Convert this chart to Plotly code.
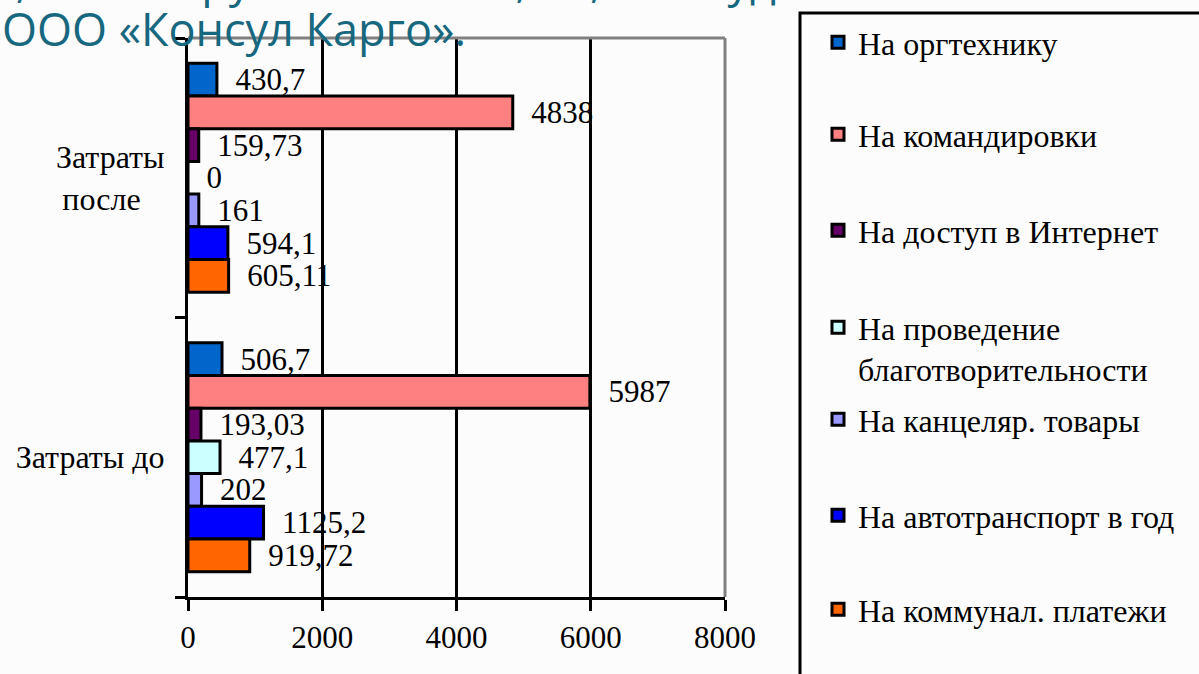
import plotly.graph_objects as go

categories = ["Затраты после", "Затраты до"]
category_labels = ["Затраты<br>после\u00a0\u00a0\u00a0", "Затраты до"]

series_names = [
    "На оргтехнику",
    "На командировки",
    "На доступ в Интернет",
    "На проведение<br>благотворительности",
    "На канцеляр. товары",
    "На автотранспорт в год",
    "На коммунал. платежи",
]
orgtech = [430.7, 506.7]
business_trips = [4838, 5987]
internet = [159.73, 193.03]
charity = [0, 477.1]
stationery = [161, 202]
vehicles = [594.1, 1125.2]
utilities = [605.11, 919.72]
series_values = [orgtech, business_trips, internet, charity, stationery, vehicles, utilities]
series_colors = ["#0066CC", "#FF8080", "#660066", "#CCFFFF", "#9999FF", "#0000FF", "#FF6600"]

x_ticks = [0, 2000, 4000, 6000, 8000]

W, H = 1199, 674
L, R, T, B = 188, 474, 38, 77
pw, ph = W - L - R, H - T - B


def px_x(p):
    return (p - L) / pw


def px_y(p):
    return (H - B - p) / ph


SERIF = "Liberation Serif, Times New Roman, serif"

# pixel top of each legend entry (one legend per series, to mimic the spaced-out legend)
legend_tops = [15, 107, 203, 300, 392, 488, 582]

fig = go.Figure()
legend_layouts = {}
for i, (name, vals, col) in enumerate(zip(series_names, series_values, series_colors)):
    lname = "legend" if i == 0 else f"legend{i + 1}"
    fig.add_trace(go.Bar(
        y=categories,
        x=vals,
        orientation="h",
        name=name,
        legend=lname,
        marker=dict(color=col, line=dict(color="black", width=3)),
        text=["\u00a0\u00a0" + f"{v:g}".replace(".", ",") for v in vals],
        textposition="outside",
        constraintext="none",
        cliponaxis=False,
        textfont=dict(family=SERIF, size=31, color="black"),
        hoverinfo="x+name",
    ))
    legend_layouts[lname] = dict(
        x=px_x(818), y=px_y(legend_tops[i]), xanchor="left", yanchor="top",
        bgcolor="rgba(0,0,0,0)", borderwidth=0,
        font=dict(family=SERIF, size=32, color="black"),
        valign="top",
    )

fig.update_layout(
    width=W, height=H,
    margin=dict(l=L, r=R, t=T, b=B, autoexpand=False),
    paper_bgcolor="#fcfcfc",
    plot_bgcolor="#fcfcfc",
    barmode="group",
    bargap=0.18,
    bargroupgap=0,
    font=dict(family=SERIF, size=30, color="black"),
    showlegend=True,
    xaxis=dict(
        range=[0, 8000], tickvals=x_ticks, ticktext=[str(t) for t in x_ticks],
        showgrid=True, gridcolor="black", gridwidth=3, zeroline=False,
        showline=True, linecolor="black", linewidth=3,
        ticks="outside", ticklen=11, tickwidth=3, tickcolor="black",
        ticklabelstandoff=0,
        tickfont=dict(family=SERIF, size=31, color="black"),
    ),
    yaxis=dict(
        type="category", categoryorder="array", categoryarray=categories,
        autorange="reversed",
        tickvals=categories, ticktext=category_labels,
        showgrid=False, zeroline=False,
        showline=True, linecolor="black", linewidth=3,
        ticks="outside", tickson="boundaries", ticklen=10, tickwidth=3, tickcolor="black",
        ticklabelstandoff=14,
        tickfont=dict(family=SERIF, size=32, color="black"),
    ),
    shapes=[
        dict(type="line", xref="paper", yref="paper", x0=0, x1=1, y0=1, y1=1,
             line=dict(color="#808080", width=3), layer="above"),
        dict(type="line", xref="paper", yref="paper", x0=1, x1=1, y0=0, y1=1,
             line=dict(color="#808080", width=3), layer="above"),
        dict(type="rect", xref="paper", yref="paper",
             x0=px_x(800), x1=px_x(1260), y0=px_y(720), y1=px_y(13),
             line=dict(color="black", width=3), fillcolor="rgba(0,0,0,0)", layer="above"),
    ],
    annotations=[
        dict(text="2,77 млн. рублей или 27,7%, что будет способствовать",
             xref="paper", yref="paper", x=px_x(-12), y=px_y(12),
             xanchor="left", yanchor="bottom", showarrow=False,
             font=dict(family="Open Sans, sans-serif", size=45, color="#17677f")),
        dict(text="ООО «Консул Карго».",
             xref="paper", yref="paper", x=px_x(0), y=px_y(28),
             xanchor="left", yanchor="middle", showarrow=False,
             font=dict(family="Open Sans, sans-serif", size=45, color="#17677f")),
    ],
    **legend_layouts,
)

fig.write_html("out.html", config={"displayModeBar": False},
               post_script="document.body.style.margin='0px';")
